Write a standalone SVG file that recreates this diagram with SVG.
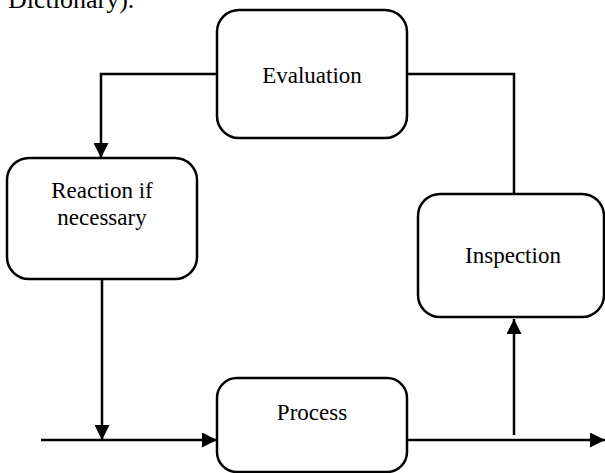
<svg xmlns="http://www.w3.org/2000/svg" width="605" height="473" viewBox="0 0 605 473">
  <style>
    .box { fill: #ffffff; stroke: #000000; stroke-width: 2.5; }
    .lbl { font-family: 'Liberation Serif', 'DejaVu Serif', serif; font-size: 23px; fill: #000000; text-anchor: middle; }
    .wire { fill: none; stroke: #000000; stroke-width: 2.5; }
    .cap { font-family: 'Liberation Serif', 'DejaVu Serif', serif; font-size: 26px; fill: #000000; }
  </style>
  <defs>
    <marker id="arrow" viewBox="0 0 10 10" refX="10" refY="5" markerWidth="6" markerHeight="6" orient="auto" markerUnits="strokeWidth">
      <path d="M0,0 L10,5 L0,10 z" fill="#000000"/>
    </marker>
  </defs>

  <rect width="605" height="473" fill="#ffffff"/>
  <text class="cap" x="8" y="8">Dictionary).</text>

  <g id="connectors">
    <!-- Evaluation back to Reaction -->
    <path class="wire" d="M217,74 L101,74 L101,158" marker-end="url(#arrow)"/>
    <!-- Inspection up to Evaluation -->
    <path class="wire" d="M514,194 L514,74 L407,74"/>
    <!-- input line into Process -->
    <path class="wire" d="M41,440 L217,440" marker-end="url(#arrow)"/>
    <!-- Reaction down to input line -->
    <path class="wire" d="M102,279 L102,440" marker-end="url(#arrow)"/>
    <!-- Process output -->
    <path class="wire" d="M407,440 L605,440" marker-end="url(#arrow)"/>
    <!-- output tap up to Inspection -->
    <path class="wire" d="M514,435 L514,319" marker-end="url(#arrow)"/>
  </g>

  <g id="evaluation">
    <rect class="box" x="217" y="10" width="190" height="128" rx="22" ry="22"/>
    <text class="lbl" x="312" y="83" font-family="Liberation Serif">Evaluation</text>
  </g>

  <g id="reaction">
    <rect class="box" x="7" y="158" width="190" height="121" rx="22" ry="22"/>
    <text class="lbl" x="102" y="198">Reaction if</text>
    <text class="lbl" x="102" y="225">necessary</text>
  </g>

  <g id="inspection">
    <rect class="box" x="418" y="194" width="186" height="123" rx="22" ry="22"/>
    <text class="lbl" x="513" y="263">Inspection</text>
  </g>

  <g id="process">
    <rect class="box" x="217" y="378" width="190" height="94" rx="20" ry="20"/>
    <text class="lbl" x="312" y="420">Process</text>
  </g>
</svg>
